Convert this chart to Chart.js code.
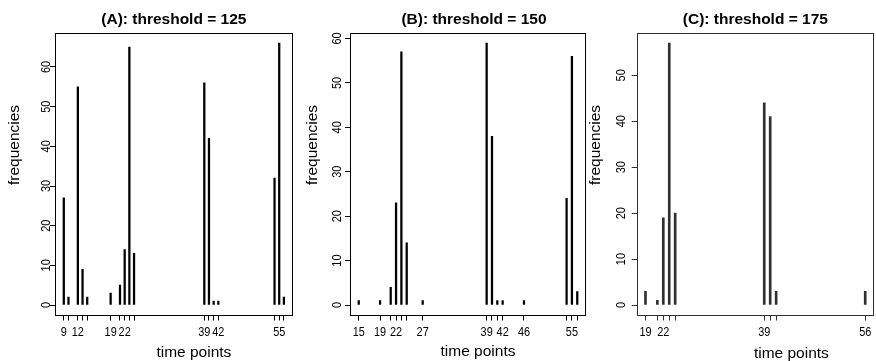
<!DOCTYPE html>
<html>
<head>
<meta charset="utf-8">
<script src="https://cdn.jsdelivr.net/npm/chart.js@4/dist/chart.umd.min.js"></script>
<style>
  html, body { margin: 0; padding: 0; background: #ffffff; }
  #wrap { position: relative; width: 876px; height: 361px; overflow: hidden; }
  canvas { position: absolute; left: 0; top: 0; }
</style>
</head>
<body>
<div id="wrap">
  <canvas id="cA" width="876" height="361"></canvas>
  <canvas id="cB" width="876" height="361"></canvas>
  <canvas id="cC" width="876" height="361"></canvas>
</div>
<script>
// ---- Data ----
const timesA  = [9, 10, 12, 13, 14, 19, 21, 22, 23, 24, 39, 40, 41, 42, 54, 55, 56];
const freqA   = [27, 2, 55, 9, 2, 3, 5, 14, 65, 13, 56, 42, 1, 1, 32, 66, 2];
const labelsA = [9, 12, 19, 22, 39, 42, 55];
const yTicksA = [0, 10, 20, 30, 40, 50, 60];

const timesB  = [15, 19, 21, 22, 23, 24, 27, 39, 40, 41, 42, 46, 54, 55, 56];
const freqB   = [1, 1, 4, 23, 57, 14, 1, 59, 38, 1, 1, 1, 24, 56, 3];
const labelsB = [15, 19, 22, 27, 39, 42, 46, 55];
const yTicksB = [0, 10, 20, 30, 40, 50, 60];

const timesC  = [19, 21, 22, 23, 24, 39, 40, 41, 56];
const freqC   = [3, 1, 19, 57, 20, 44, 41, 3, 3];
const labelsC = [19, 22, 39, 56];
const yTicksC = [0, 10, 20, 30, 40, 50];

const titles = ["(A): threshold = 125", "(B): threshold = 150", "(C): threshold = 175"];
const xTitle = "time points";
const yTitle = "frequencies";

// ---- Layout / styling ----
const FONT = "'Liberation Sans', Arial, Helvetica, sans-serif";
const TICK_FONT = "13px " + FONT;
const TICK_SQUEEZE = 0.84;   // tick numbers in the reference are slightly condensed
const TICK_LEN = 5;
const W = 876, H = 361;

const panels = [
  { id: "cA", times: timesA, freq: freqA, labels: labelsA, yTicks: yTicksA, title: titles[0],
    box: { l: 55, t: 32.7, r: 292.7, b: 315.5 }, color: "#000000", barW: 1.6,
    titleDx: 0, xlabDx: 20, xlabY: 356.5, ylabOff: 40, ytickOff: 9 },
  { id: "cB", times: timesB, freq: freqB, labels: labelsB, yTicks: yTicksB, title: titles[1],
    box: { l: 350, t: 32.5, r: 586, b: 315.5 }, color: "#000000", barW: 1.6,
    titleDx: 6, xlabDx: 10, xlabY: 355.5, ylabOff: 37, ytickOff: 13 },
  { id: "cC", times: timesC, freq: freqC, labels: labelsC, yTicks: yTicksC, title: titles[2],
    box: { l: 636.7, t: 32.7, r: 874, b: 315.5 }, color: "#303030", barW: 2,
    titleDx: 0, xlabDx: 36, xlabY: 357.5, ylabOff: 41, ytickOff: 15 }
];

function squeezedText(ctx, txt, x, y, rot) {
  ctx.save();
  ctx.translate(x, y);
  if (rot) ctx.rotate(rot);
  ctx.scale(TICK_SQUEEZE, 1);
  ctx.textAlign = "center";
  ctx.textBaseline = "middle";
  ctx.fillText(txt, 0, 0);
  ctx.restore();
}

const decorPlugin = {
  id: "decor",
  afterDraw(chart, args, o) {
    const ctx = chart.ctx;
    const ca = chart.chartArea;
    const xs = chart.scales.x, ys = chart.scales.y;
    ctx.save();
    // box
    ctx.strokeStyle = o.color;
    ctx.lineWidth = 1;
    ctx.strokeRect(Math.round(ca.left) + 0.5, Math.round(ca.top) + 0.5,
                   Math.round(ca.right - ca.left) - 1, Math.round(ca.bottom - ca.top) - 1);
    ctx.fillStyle = "#000000";
    // title
    ctx.font = "bold 15.5px " + FONT;
    ctx.textAlign = "center";
    ctx.textBaseline = "alphabetic";
    ctx.fillText(o.title, (ca.left + ca.right) / 2 + o.titleDx, 23.5);
    // x tick labels
    ctx.font = TICK_FONT;
    o.labels.forEach(v => {
      squeezedText(ctx, String(v), xs.getPixelForValue(v), 332, 0);
    });
    // y tick labels (rotated)
    ys.ticks.forEach(t => {
      squeezedText(ctx, String(t.value), ca.left - o.ytickOff, ys.getPixelForValue(t.value), -Math.PI / 2);
    });
    // axis titles
    ctx.font = "15.5px " + FONT;
    ctx.textAlign = "center";
    ctx.textBaseline = "alphabetic";
    ctx.fillText(xTitle, (ca.left + ca.right) / 2 + o.xlabDx, o.xlabY);
    ctx.save();
    ctx.translate(ca.left - o.ylabOff, 145);
    ctx.rotate(-Math.PI / 2);
    ctx.textBaseline = "middle";
    ctx.fillText(yTitle, 0, 0);
    ctx.restore();
    ctx.restore();
  }
};

panels.forEach(p => {
  const xmin = Math.min(...p.times), xmax = Math.max(...p.times);
  const xr = xmax - xmin;
  const ymax = Math.max(...p.freq);
  new Chart(document.getElementById(p.id), {
    type: "bar",
    data: {
      datasets: [{
        data: p.times.map((t, i) => ({ x: t, y: p.freq[i] })),
        backgroundColor: p.color,
        borderWidth: 0,
        barThickness: p.barW
      }]
    },
    plugins: [decorPlugin],
    options: {
      responsive: false,
      animation: false,
      events: [],
      layout: {
        padding: {
          left: p.box.l - TICK_LEN,
          right: W - p.box.r,
          top: p.box.t,
          bottom: H - p.box.b - TICK_LEN
        }
      },
      plugins: {
        legend: { display: false },
        tooltip: { enabled: false },
        title: { display: false },
        decor: {
          title: p.title, labels: p.labels, color: p.color,
          titleDx: p.titleDx, xlabDx: p.xlabDx, xlabY: p.xlabY,
          ylabOff: p.ylabOff, ytickOff: p.ytickOff
        }
      },
      scales: {
        x: {
          type: "linear",
          offset: false,
          min: xmin - 0.04 * xr,
          max: xmax + 0.04 * xr,
          afterBuildTicks: (s) => { s.ticks = p.times.map(v => ({ value: v })); },
          ticks: { display: false, autoSkip: false },
          grid: { display: true, offset: false, drawOnChartArea: false, drawTicks: true, tickLength: TICK_LEN, color: p.color, lineWidth: 1 },
          border: { display: false }
        },
        y: {
          type: "linear",
          min: -0.04 * ymax,
          max: 1.04 * ymax,
          afterBuildTicks: (s) => { s.ticks = p.yTicks.map(v => ({ value: v })); },
          ticks: { display: false },
          grid: { display: true, offset: false, drawOnChartArea: false, drawTicks: true, tickLength: TICK_LEN, color: p.color, lineWidth: 1 },
          border: { display: false }
        }
      }
    }
  });
});
</script>
</body>
</html>
